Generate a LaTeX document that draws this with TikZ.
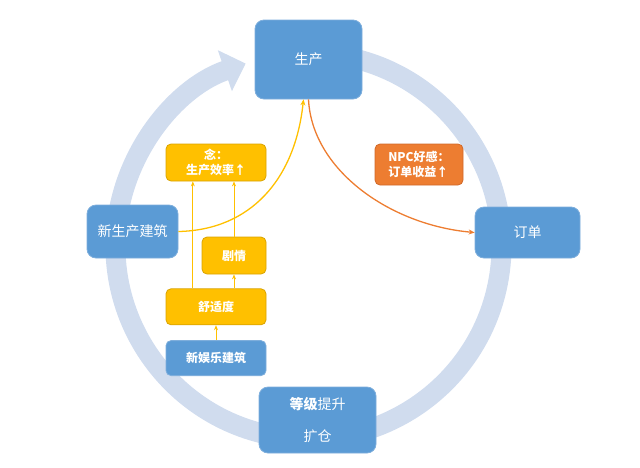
\documentclass[tikz,border=0pt]{standalone}
\usepackage{fontspec}
\setmainfont{Noto Sans CJK SC}
\usepackage{xcolor}
\usepackage{tikz}
\usetikzlibrary{positioning,calc,arrows.meta}

\definecolor{boxblue}{HTML}{5B9BD5}
\definecolor{boxblueline}{HTML}{7EAEDC}
\definecolor{ringblue}{HTML}{D0DCEE}
\definecolor{boxyellow}{HTML}{FFC000}
\definecolor{boxyellowline}{HTML}{D9A300}
\definecolor{boxorange}{HTML}{ED7D31}
\definecolor{boxorangeline}{HTML}{D0692A}

\tikzset{
	mainbox/.style={rounded corners=9pt,fill=boxblue,draw=boxblueline,line width=0.8pt,text=white,font=\fontsize{14}{16}\selectfont,inner sep=2pt},
	smallbox/.style={rounded corners=5pt,line width=0.8pt,text=white,font=\fontsize{12}{15}\selectfont\bfseries,inner sep=2pt,minimum width=100pt,minimum height=36pt},
	yellowbox/.style={smallbox,fill=boxyellow,draw=boxyellowline},
	linkarrow/.style={line width=0.8pt,-{Stealth[length=5pt,width=4pt]}},
	curvearrow/.style={line width=1.3pt,-{Stealth[length=6pt,width=5pt]}},
}

\begin{document}
\begin{tikzpicture}[x=1pt,y=-1pt]
		\useasboundingbox (0,0) rectangle (640,467);
		
		\coordinate (c) at (308.5,246);
		\draw[ringblue,line width=20pt,-{Triangle[width=42pt,length=22pt]}] ([shift={(-80:193)}]c) arc[start angle=-80,end angle=251,radius=193];
		
		\node[mainbox,minimum width=107pt,minimum height=79pt] (prod) at (308.5,59.5) {生产};
		\node[mainbox,minimum width=105pt,minimum height=51pt] (order) at (527.5,232.5) {订单};
		\node[mainbox,minimum width=91pt,minimum height=53pt] (newprod) at (132.5,231.5) {新生产建筑};
		\node[mainbox,minimum width=117pt,minimum height=66pt,align=center,font=\fontsize{14}{32}\selectfont] (level) at (317.5,420) {{\bfseries 等级}提升\\扩仓};
		
		\node[smallbox,fill=boxorange,draw=boxorangeline,minimum width=88pt,minimum height=41pt,align=left] (npc) at (419,164.5) {NPC好感：\\订单收益↑};
		
		\node[yellowbox,minimum height=37pt,align=center] (nian) at (216,162.5) {念：\\生产效率↑};
		\node[yellowbox,below=107pt of nian] (comfort) {舒适度};
		\node[yellowbox,minimum width=64pt,minimum height=37pt,above=14pt of comfort.north east,anchor=south east] (story) {剧情};
		\node[smallbox,fill=boxblue,draw=boxblueline,minimum height=35pt,below=15pt of comfort] (fun) {新娱乐建筑};
		
		\draw[linkarrow,boxyellow] (fun) -- (comfort);
		\draw[linkarrow,boxyellow] (comfort.north -| story) -- (story);
		\draw[linkarrow,boxyellow] (story) -- (story |- nian.south);
		\draw[linkarrow,boxyellow] ($(comfort.north west)!0.27!(comfort.north east)$) -- ($(nian.south west)!0.27!(nian.south east)$);
		
		\draw[curvearrow,boxyellow] (newprod.east) .. controls (250,230) and (295,180) .. ($(prod.south)+(-5,0)$);
		\draw[curvearrow,boxorange] (prod.south) .. controls (312,170) and (390,225) .. (order.west);
	\end{tikzpicture}
\end{document}
